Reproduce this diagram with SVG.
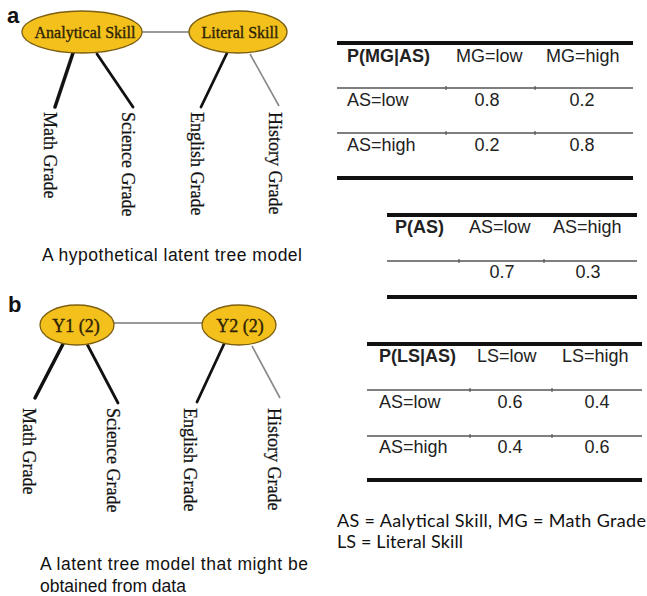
<svg xmlns="http://www.w3.org/2000/svg" width="647" height="596" viewBox="0 0 647 596">
<style>
.bg{fill:#ffffff}
.lat{fill:#f3c01c;stroke:#7d5f12;stroke-width:1.3}
.lt{font-family:"Liberation Serif",serif;font-size:16px;fill:#2e2306;stroke:#2e2306;stroke-width:0.35;text-anchor:middle}
.obs{font-family:"Liberation Serif",serif;font-size:18px;fill:#111;stroke:#111;stroke-width:0.25}
.panel{font-family:"Liberation Sans",Arial,sans-serif;font-weight:bold;font-size:22px;fill:#111}
.cap{font-family:"Liberation Sans",Arial,sans-serif;font-size:17.5px;fill:#111}
.tb{font-family:"Liberation Sans",Arial,sans-serif;font-size:18px;fill:#222}
.th{font-weight:bold}
.c{text-anchor:middle}
.foot{font-family:Lato,"Open Sans",sans-serif;font-size:18px;fill:#111}
.e3{stroke:#111;stroke-width:3.5;stroke-linecap:round}
.e2{stroke:#111;stroke-width:2.8;stroke-linecap:round}
.e1{stroke:#888;stroke-width:1.6}
.ln{stroke:#777;stroke-width:1.4}
.thick{stroke:#111;stroke-width:4}
.thin{stroke:#555;stroke-width:1.5}
.tick{stroke:#555;stroke-width:1.2}
</style>
<rect class="bg" x="0" y="0" width="647" height="596"/>

<text class="panel" x="7" y="23">a</text>
<text class="panel" x="8" y="312">b</text>

<g id="connectors">
  <line class="ln" x1="142" y1="32" x2="190" y2="32"/>
  <line class="e3" x1="73" y1="53" x2="55" y2="107"/>
  <line class="e2" x1="97" y1="54" x2="133" y2="107"/>
  <line class="e2" x1="227" y1="53" x2="201" y2="107"/>
  <line class="e1" x1="250" y1="54" x2="279" y2="106"/>

  <line class="ln" x1="114" y1="323" x2="202" y2="323"/>
  <line class="e3" x1="63" y1="344" x2="35" y2="398"/>
  <line class="e2" x1="87" y1="344" x2="118" y2="403"/>
  <line class="e2" x1="224" y1="344" x2="197" y2="402"/>
  <line class="e1" x1="252" y1="346" x2="280" y2="398"/>
</g>

<g id="analytical-skill">
  <ellipse class="lat" cx="82" cy="32" rx="60" ry="21"/>
  <text class="lt" x="85" y="38">Analytical Skill</text>
</g>
<g id="literal-skill">
  <ellipse class="lat" cx="238" cy="32" rx="49" ry="21"/>
  <text class="lt" x="240" y="38">Literal Skill</text>
</g>
<g id="a-math"><text class="obs" transform="translate(44,112) rotate(90)">Math Grade</text></g>
<g id="a-science"><text class="obs" transform="translate(122,112) rotate(90)">Science Grade</text></g>
<g id="a-english"><text class="obs" transform="translate(191,112) rotate(90)">English Grade</text></g>
<g id="a-history"><text class="obs" transform="translate(269,112) rotate(90)">History Grade</text></g>

<text class="cap" x="42" y="261" textLength="260">A hypothetical latent tree model</text>

<g id="y1">
  <ellipse class="lat" cx="77" cy="325" rx="37" ry="20"/>
  <text class="lt" x="76" y="332" style="font-size:18px">Y1 (2)</text>
</g>
<g id="y2">
  <ellipse class="lat" cx="239" cy="325" rx="37" ry="20"/>
  <text class="lt" x="240" y="332" style="font-size:18px">Y2 (2)</text>
</g>
<g id="b-math"><text class="obs" transform="translate(23,408) rotate(90)">Math Grade</text></g>
<g id="b-science"><text class="obs" transform="translate(107,408) rotate(90)">Science Grade</text></g>
<g id="b-english"><text class="obs" transform="translate(184,408) rotate(90)">English Grade</text></g>
<g id="b-history"><text class="obs" transform="translate(268,408) rotate(90)">History Grade</text></g>

<text class="cap" x="40" y="570" textLength="268">A latent tree model that might be</text>
<text class="cap" x="40" y="592">obtained from data</text>

<g id="table-mg">
  <line class="thick" x1="337" y1="43" x2="633" y2="43"/>
  <text class="tb th" x="347" y="62">P(MG|AS)</text>
  <text class="tb" x="456" y="62">MG=low</text>
  <text class="tb" x="546" y="62">MG=high</text>
  <line class="thin" x1="337" y1="88" x2="633" y2="88"/>
  <line class="tick" x1="446" y1="86" x2="446" y2="90"/>
  <line class="tick" x1="535" y1="86" x2="535" y2="90"/>
  <text class="tb" x="347" y="106">AS=low</text>
  <text class="tb c" x="487" y="106">0.8</text>
  <text class="tb c" x="582" y="106">0.2</text>
  <line class="thin" x1="337" y1="133" x2="633" y2="133"/>
  <line class="tick" x1="446" y1="131" x2="446" y2="135"/>
  <line class="tick" x1="535" y1="131" x2="535" y2="135"/>
  <text class="tb" x="347" y="151">AS=high</text>
  <text class="tb c" x="487" y="151">0.2</text>
  <text class="tb c" x="582" y="151">0.8</text>
  <line class="thick" x1="337" y1="178" x2="633" y2="178"/>
</g>

<g id="table-as">
  <line class="thick" x1="387" y1="215" x2="637" y2="215"/>
  <text class="tb th" x="395" y="233">P(AS)</text>
  <text class="tb" x="469" y="233">AS=low</text>
  <text class="tb" x="553" y="233">AS=high</text>
  <line class="thin" x1="387" y1="261" x2="637" y2="261"/>
  <line class="tick" x1="459" y1="259" x2="459" y2="263"/>
  <line class="tick" x1="544" y1="259" x2="544" y2="263"/>
  <text class="tb c" x="502" y="278">0.7</text>
  <text class="tb c" x="588" y="278">0.3</text>
  <line class="thick" x1="387" y1="297" x2="637" y2="297"/>
</g>

<g id="table-ls">
  <line class="thick" x1="367" y1="344" x2="642" y2="344"/>
  <text class="tb th" x="379" y="362">P(LS|AS)</text>
  <text class="tb" x="477" y="362">LS=low</text>
  <text class="tb" x="562" y="362">LS=high</text>
  <line class="thin" x1="367" y1="390" x2="642" y2="390"/>
  <line class="tick" x1="470" y1="388" x2="470" y2="392"/>
  <line class="tick" x1="552" y1="388" x2="552" y2="392"/>
  <text class="tb" x="379" y="408">AS=low</text>
  <text class="tb c" x="510" y="408">0.6</text>
  <text class="tb c" x="597" y="408">0.4</text>
  <line class="thin" x1="367" y1="436" x2="642" y2="436"/>
  <line class="tick" x1="470" y1="434" x2="470" y2="438"/>
  <line class="tick" x1="552" y1="434" x2="552" y2="438"/>
  <text class="tb" x="379" y="453">AS=high</text>
  <text class="tb c" x="510" y="453">0.4</text>
  <text class="tb c" x="597" y="453">0.6</text>
  <line class="thick" x1="367" y1="480" x2="642" y2="480"/>
</g>

<text class="foot" x="337" y="527" textLength="309">AS = Aalytical Skill, MG = Math Grade</text>
<text class="foot" x="337" y="548" textLength="126">LS = Literal Skill</text>
</svg>
